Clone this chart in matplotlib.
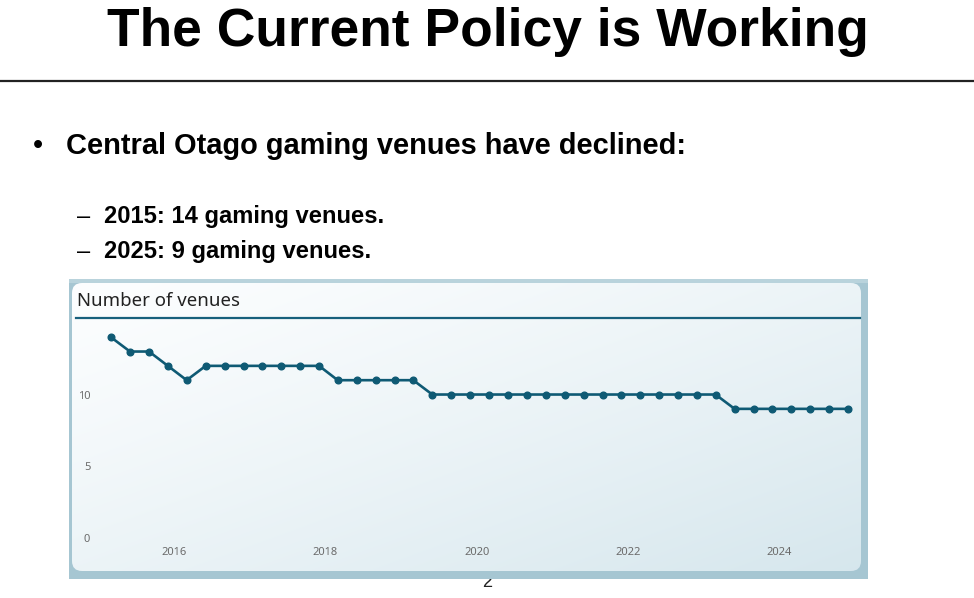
import matplotlib.pyplot as plt
import matplotlib.dates as mdates
import numpy as np
import pandas as pd
from matplotlib.patches import FancyBboxPatch, Rectangle

# Данные: число игровых заведений в Central Otago (поквартально)
quarters = pd.date_range('2015-03-01', periods=40, freq='3MS')
venues = [14, 13, 13, 12, 11,
          12, 12, 12, 12, 12, 12, 12,
          11, 11, 11, 11, 11,
          10, 10, 10, 10, 10, 10, 10, 10, 10, 10, 10, 10, 10, 10, 10, 10,
          9, 9, 9, 9, 9, 9, 9]
y_ticks = [0, 5, 10]

slide_title = 'The Current Policy is Working'
bullet = 'Central Otago gaming venues have declined:'
sub_bullets = ['2015: 14 gaming venues.', '2025: 9 gaming venues.']
chart_title = 'Number of venues'

W, H = 974, 598


def px_box(x0, y0, x1, y1):
    # перевод пиксельных координат в доли фигуры
    return [x0 / W, 1 - y1 / H, (x1 - x0) / W, (y1 - y0) / H]


fig = plt.figure(figsize=(W / 100, H / 100), dpi=100)
fig.patch.set_facecolor('white')

# Фоновый слой в пикселях
bg = fig.add_axes([0, 0, 1, 1])
bg.set_xlim(0, W)
bg.set_ylim(H, 0)
bg.axis('off')

bg.text(W / 2 + 0.5, 46, slide_title, fontsize=38.4, fontweight='bold',
        family='Liberation Sans', ha='center', va='baseline', color='black')
bg.plot([0, W], [80.5, 80.5], color='#222222', lw=1.6, solid_capstyle='butt')

bg.text(33, 154, '•', fontsize=21, family='Liberation Sans', va='baseline')
bg.text(66, 154, bullet, fontsize=20.9, fontweight='bold',
        family='Liberation Sans', va='baseline')
for i, s in enumerate(sub_bullets):
    yb = 223 + i * 35
    bg.text(77, yb, '–', fontsize=17, family='Liberation Sans', va='baseline')
    bg.text(104, yb, s, fontsize=17.1, fontweight='bold',
            family='Liberation Sans', va='baseline')

# номер слайда, почти скрыт под картинкой
bg.text(487, 587, '2', fontsize=13, family='Liberation Sans',
        ha='center', va='baseline', color='#222222', zorder=0)

# Рамка вставленной картинки
bg.add_patch(Rectangle((69, 279), 799, 300, facecolor='#a6c6d2',
                       edgecolor='none', zorder=1))
bg.add_patch(Rectangle((69, 279), 799, 4, facecolor='#b9d3dc',
                       edgecolor='none', zorder=1))
card = FancyBboxPatch((72, 283), 789, 288,
                      boxstyle='round,pad=0,rounding_size=10',
                      facecolor='none', edgecolor='none', zorder=2)
bg.add_patch(card)
gx, gy = np.meshgrid(np.linspace(0, 1, 200), np.linspace(0, 1, 100))
t = np.clip(0.5 * gx + 0.5 * gy, 0, 1) ** 1.2
top = np.array([0.99, 0.995, 0.998])
bot = np.array([0.84, 0.905, 0.93])
grad = top[None, None, :] * (1 - t[..., None]) + bot[None, None, :] * t[..., None]
im = bg.imshow(grad, extent=[72, 861, 571, 283], aspect='auto', zorder=2,
               interpolation='bilinear')
im.set_clip_path(card)
bg.set_xlim(0, W)
bg.set_ylim(H, 0)

bg.text(77, 306, chart_title, fontsize=13.4, family='Noto Sans',
        color='#222222', va='baseline', zorder=3)
bg.plot([76, 860], [317.5, 317.5], color='#17607c', lw=1.6, zorder=3)

# Сам график
ax = fig.add_axes(px_box(95, 320, 860, 545))
ax.set_facecolor('none')
ax.plot(quarters, venues, color='#0f5a74', lw=1.9, marker='o',
        markersize=4.8, zorder=5)
ax.set_xlim(pd.Timestamp('2014-12-14'), pd.Timestamp('2025-01-27'))
ax.set_ylim(-0.5, 15.2)
ax.set_yticks(y_ticks)
ax.xaxis.set_major_locator(mdates.YearLocator(2))
ax.xaxis.set_major_formatter(mdates.DateFormatter('%Y'))
for s in ax.spines.values():
    s.set_visible(False)
ax.tick_params(axis='both', length=0, labelsize=8, labelcolor='#6b6b6b')
ax.tick_params(axis='y', pad=3.5)
ax.tick_params(axis='x', pad=1.5)
for lab in ax.get_xticklabels() + ax.get_yticklabels():
    lab.set_family('Noto Sans')

fig.savefig('out.png', dpi=100)
